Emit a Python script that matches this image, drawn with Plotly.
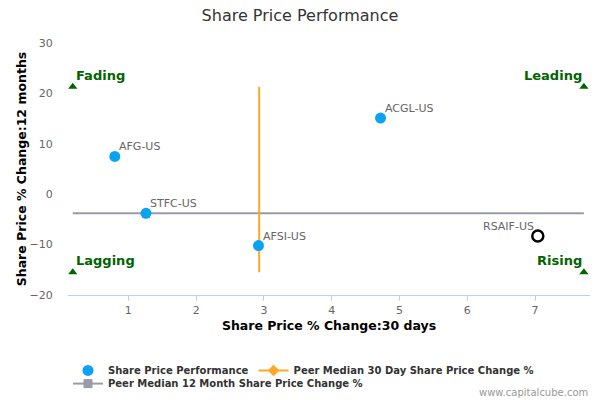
import plotly.graph_objects as go

# Data
companies = ["AFG-US", "STFC-US", "AFSI-US", "ACGL-US", "RSAIF-US"]
x_30d = [0.80, 1.26, 2.92, 4.72, 7.04]
y_12m = [7.5, -3.8, -10.2, 15.1, -8.3]
highlight = "RSAIF-US"

peer_median_30d = 2.93
peer_median_12m = -3.8

quadrant_labels = ["Fading", "Leading", "Lagging", "Rising"]
quadrant_x = [0.18, 7.72, 0.18, 7.72]
quadrant_y = [21.3, 21.3, -15.5, -15.5]

x_ticks = [1, 2, 3, 4, 5, 6, 7]
y_ticks = [-20, -10, 0, 10, 20, 30]

FONT = "DejaVu Sans"
BLUE = "#0aa3f2"
ORANGE = "#ffa826"
GRAY = "#9a9ca8"
GREEN = "#006400"

fig = go.Figure()

# Peer median lines
fig.add_trace(go.Scatter(
    x=[min(quadrant_x), max(quadrant_x)], y=[peer_median_12m, peer_median_12m],
    mode="lines", line=dict(color=GRAY, width=2), showlegend=False, hoverinfo="skip"))
fig.add_trace(go.Scatter(
    x=[peer_median_30d, peer_median_30d], y=[min(quadrant_y), max(quadrant_y)],
    mode="lines", line=dict(color=ORANGE, width=2), showlegend=False, hoverinfo="skip"))

# Companies
normal = [i for i, c in enumerate(companies) if c != highlight]
hi = [i for i, c in enumerate(companies) if c == highlight]
fig.add_trace(go.Scatter(
    x=[x_30d[i] for i in normal], y=[y_12m[i] for i in normal], mode="markers",
    marker=dict(color=BLUE, size=11), showlegend=False))
fig.add_trace(go.Scatter(
    x=[x_30d[i] for i in hi], y=[y_12m[i] for i in hi], mode="markers",
    marker=dict(color="white", size=11, line=dict(color="black", width=2.5)),
    showlegend=False))

for name, xv, yv in zip(companies, x_30d, y_12m):
    left = name == highlight
    fig.add_annotation(x=xv, y=yv, text=name, showarrow=False,
                       xanchor="right" if left else "left", yanchor="bottom",
                       xshift=-2 if left else 2, yshift=1,
                       font=dict(family=FONT, size=11, color="#666666"))

# Quadrant markers
fig.add_trace(go.Scatter(
    x=quadrant_x, y=quadrant_y, mode="markers",
    marker=dict(symbol="triangle-up", color=GREEN, size=8), showlegend=False,
    hoverinfo="skip"))
for lab, xv, yv in zip(quadrant_labels, quadrant_x, quadrant_y):
    left = xv > 4
    fig.add_annotation(x=xv, y=yv, text=lab, showarrow=False,
                       xanchor="right" if left else "left", yanchor="bottom",
                       xshift=0 if left else 1, yshift=2,
                       font=dict(family=FONT, size=13, color=GREEN, weight="bold"))

# Legend entries
fig.add_trace(go.Scatter(x=[None], y=[None], mode="markers", name="Share Price Performance",
                         marker=dict(color=BLUE, size=11), legend="legend"))
fig.add_trace(go.Scatter(x=[None], y=[None], mode="lines+markers",
                         name="Peer Median 30 Day Share Price Change %",
                         line=dict(color=ORANGE, width=2),
                         marker=dict(symbol="diamond", color=ORANGE, size=9), legend="legend"))
fig.add_trace(go.Scatter(x=[None], y=[None], mode="lines+markers",
                         name="Peer Median 12 Month Share Price Change %",
                         line=dict(color=GRAY, width=2),
                         marker=dict(symbol="square", color=GRAY, size=9), legend="legend2"))

fig.add_annotation(text="www.capitalcube.com", xref="paper", yref="paper",
                   x=1, y=-0.388, xanchor="right", yanchor="middle", xshift=0,
                   showarrow=False, font=dict(family=FONT, size=10, color="#999999"))

legend_font = dict(family=FONT, size=10, color="#333333", weight="bold")

fig.update_layout(
    width=600, height=400, autosize=False,
    margin=dict(l=68, r=10, t=43, b=105, autoexpand=False),
    paper_bgcolor="white", plot_bgcolor="white",
    font=dict(family=FONT, size=11, color="#666666"),
    title=dict(text="Share Price Performance", x=0.5, xanchor="center", y=0.962, yanchor="middle",
               font=dict(family=FONT, size=16, color="#333333")),
    xaxis=dict(range=[0.11, 7.81], tickvals=x_ticks, showgrid=False, zeroline=False,
               showline=True, linecolor="#c0d0e0", linewidth=1,
               ticks="outside", ticklen=5, tickcolor="#c0d0e0",
               tickfont=dict(family=FONT, size=11, color="#666666"),
               title=dict(text="Share Price % Change:30 days", standoff=5,
                          font=dict(family=FONT, size=12.5, color="#000000", weight="bold"))),
    yaxis=dict(range=[-20, 30], tickvals=y_ticks, showgrid=False, zeroline=False,
               showline=False, ticks="outside", ticklen=12, tickcolor="rgba(0,0,0,0)",
               tickfont=dict(family=FONT, size=11, color="#666666"),
               title=dict(text="Share Price % Change:12 months", standoff=0,
                          font=dict(family=FONT, size=12.5, color="#000000", weight="bold"))),
    legend=dict(orientation="h", x=0, y=-0.242, xanchor="left", yanchor="top",
                font=legend_font, itemwidth=30, bgcolor="rgba(0,0,0,0)"),
    legend2=dict(orientation="h", x=0, y=-0.294, xanchor="left", yanchor="top",
                 font=legend_font, itemwidth=30, bgcolor="rgba(0,0,0,0)"),
    hovermode=False,
)

fig.write_html("out.html", config={"displayModeBar": False},
               post_script="document.body.style.margin='0';")
